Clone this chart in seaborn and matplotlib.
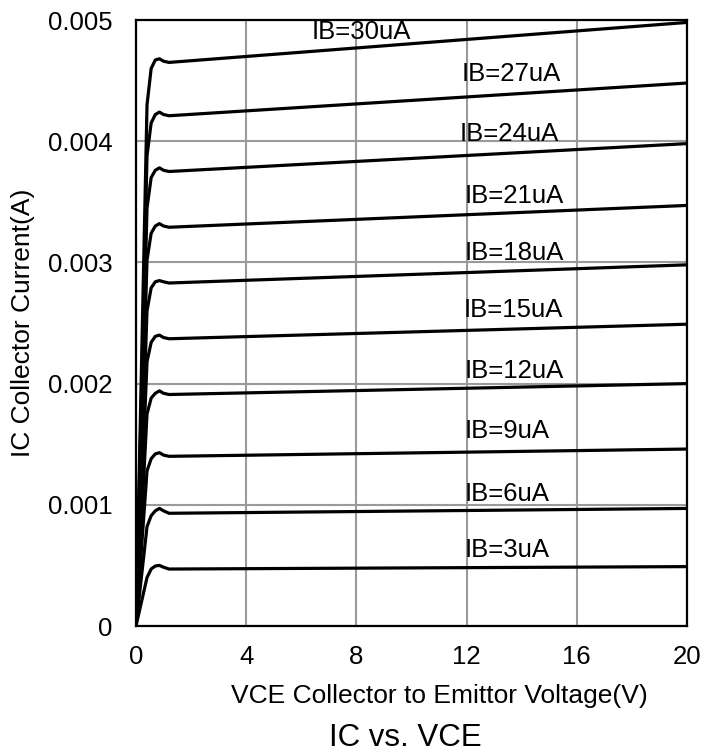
import numpy as np
import pandas as pd
import matplotlib
matplotlib.use("Agg")
import matplotlib.pyplot as plt
import seaborn as sns

# ---- data ----
vce = [0, 0.4, 0.55, 0.7, 0.85, 1.0, 1.2, 20]
ib30 = [0, 0.00430, 0.00460, 0.00467, 0.00468, 0.00466, 0.00465, 0.00498]
ib27 = [0, 0.00388, 0.00415, 0.00422, 0.00424, 0.00422, 0.00421, 0.00448]
ib24 = [0, 0.00345, 0.00370, 0.00376, 0.00378, 0.00376, 0.00375, 0.00398]
ib21 = [0, 0.00302, 0.00324, 0.00330, 0.00332, 0.00330, 0.00329, 0.00347]
ib18 = [0, 0.00260, 0.00279, 0.00284, 0.00285, 0.00284, 0.00283, 0.00298]
ib15 = [0, 0.00218, 0.00234, 0.00239, 0.00240, 0.00238, 0.00237, 0.00249]
ib12 = [0, 0.00175, 0.00188, 0.00192, 0.00194, 0.00192, 0.00191, 0.00200]
ib9 = [0, 0.00128, 0.00138, 0.00142, 0.00143, 0.00141, 0.00140, 0.00146]
ib6 = [0, 0.00082, 0.00091, 0.00095, 0.00097, 0.00095, 0.00093, 0.00097]
ib3 = [0, 0.00040, 0.00047, 0.000495, 0.00050, 0.000485, 0.00047, 0.00049]

series_names = ["IB=30uA", "IB=27uA", "IB=24uA", "IB=21uA", "IB=18uA",
                "IB=15uA", "IB=12uA", "IB=9uA", "IB=6uA", "IB=3uA"]
series_values = [ib30, ib27, ib24, ib21, ib18, ib15, ib12, ib9, ib6, ib3]

label_x = [6.39, 11.83, 11.76, 11.94, 11.94, 11.9, 11.94, 11.94, 11.94, 11.94]
label_y = [0.00484, 0.00450, 0.00400, 0.00349, 0.00302, 0.00255, 0.00205,
           0.00155, 0.00103, 0.00057]

x_ticks = [0, 4, 8, 12, 16, 20]
y_ticks = [0, 0.001, 0.002, 0.003, 0.004, 0.005]
y_tick_labels = ["0", "0.001", "0.002", "0.003", "0.004", "0.005"]

# ---- build long-form table ----
rows = []
for name, vals in zip(series_names, series_values):
    for order, (x, y) in enumerate(zip(vce, vals)):
        rows.append({"IB": name, "VCE": x, "IC": y, "order": order})
df = pd.DataFrame(rows)

sns.set_style("white")
plt.rcParams["font.family"] = ["Liberation Sans", "DejaVu Sans"]
plt.rcParams["text.color"] = "black"
plt.rcParams["axes.labelcolor"] = "black"

fig = plt.figure(figsize=(7.05, 7.53), dpi=100)
ax = fig.add_axes([136 / 705, 1 - 626 / 753, (687 - 136) / 705, (626 - 20) / 753])

sns.lineplot(data=df, x="VCE", y="IC", hue="IB", units="IB", estimator=None,
             sort=False, palette=["black"] * len(series_names), legend=False,
             linewidth=2.3, ax=ax, zorder=3)
for line in ax.lines:
    line.set_solid_joinstyle("round")

ax.set_xlim(0, 20)
ax.set_ylim(0, 0.005)
ax.set_xticks(x_ticks)
ax.set_xticklabels([str(t) for t in x_ticks])
ax.set_yticks(y_ticks)
ax.set_yticklabels(y_tick_labels)
ax.tick_params(axis="both", length=0, labelsize=18.5, colors="black",
               labelcolor="black")
ax.tick_params(axis="x", pad=14)
ax.tick_params(axis="y", pad=17)

ax.grid(True, color="#9a9a9a", linewidth=1.5, zorder=1)
ax.set_axisbelow(True)
for sp in ax.spines.values():
    sp.set_visible(True)
    sp.set_color("black")
    sp.set_linewidth(1.6)

ax.set_xlabel("")
ax.set_ylabel("")

for name, lx, ly in zip(series_names, label_x, label_y):
    ax.text(lx, ly, name, fontsize=18.5, ha="left", va="baseline",
            color="black", zorder=4)

fig.text(439 / 705, 1 - 696 / 753, "VCE Collector to Emittor Voltage(V)",
         fontsize=19, ha="center", va="center", color="black")
fig.text(23 / 705, 1 - 323 / 753, "IC Collector Current(A)",
         fontsize=19, ha="center", va="center", rotation=90, color="black")
fig.text(405 / 705, 1 - 738 / 753, "IC vs. VCE",
         fontsize=22.5, ha="center", va="center", color="black")

fig.savefig("out.png", dpi=100)
